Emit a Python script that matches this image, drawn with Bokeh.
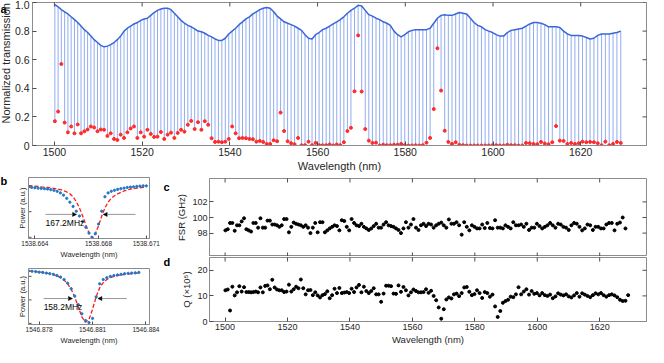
import numpy as np
from bokeh.plotting import figure
from bokeh.layouts import column, row
from bokeh.models import FixedTicker, PrintfTickFormatter, Label, Arrow, NormalHead
from bokeh.core.properties import value
from bokeh.embed import file_html
from bokeh.resources import INLINE

# ---------------- data ----------------
first_resonance_nm = 1500.1

# FSR between consecutive resonances (GHz), panel c
fsr_ghz = [
    98.35, 98.5, 99.3, 99.3, 98.3, 99.0, 99.0, 99.5, 99.9, 98.5,
    98.35, 98.2, 99.3, 99.3, 98.7, 99.9, 98.7, 98.7, 99.6,
    99.6, 99.1, 99.1, 99.0, 98.8, 99.0, 99.8, 99.8, 98.1, 98.8,
    99.35, 99.2, 99.1, 99.0, 98.8, 99.0, 98.7, 98.0, 98.7,
    99.3, 98.1, 99.4, 99.4, 98.1, 98.35, 98.6, 98.8, 99.0, 98.9,
    98.35, 99.65, 99.55, 98.8, 98.35, 99.8, 99.3, 99.0, 98.9,
    99.2, 98.8, 98.6, 98.4, 98.6, 98.9, 99.2, 98.7, 98.7, 99.1,
    99.4, 99.0, 98.9, 98.8, 98.6, 98.4, 98.0, 98.6, 99.4,
    98.7, 99.1, 99.8, 98.7, 98.4, 99.0, 99.2, 98.9, 99.2, 99.1,
    98.7, 99.0, 99.2, 99.35, 99.0, 98.7, 99.75, 99.2, 99.2,
    99.4, 99.0, 97.8, 99.4, 98.8, 98.35, 99.0, 98.8, 98.6, 98.6,
    99.1, 98.65, 99.3, 98.65, 98.6, 99.65, 98.7, 98.7, 98.6,
    99.0, 98.8, 98.6, 99.4, 99.0, 99.0, 99.1, 98.8, 99.2, 98.4,
    98.7, 98.7, 99.2, 98.9, 98.6, 98.8, 99.0, 99.3, 99.0,
    98.7, 99.2, 99.1, 98.8, 98.7, 98.4, 99.0, 99.3, 99.2, 98.8,
    98.35, 98.6, 99.1, 99.0, 98.4, 98.8, 98.8, 98.6, 98.6,
    99.1, 99.3, 99.3, 98.35, 99.2, 99.35, 100.0, 98.6,
]

# transmission at each resonance minimum (red points), panel a
dip_min = [
    0.17, 0.237, 0.57, 0.16, 0.092, 0.133, 0.085, 0.147, 0.085, 0.099,
    0.112, 0.133, 0.126, 0.099, 0.112, 0.110, 0.067, 0.085, 0.046, 0.039,
    0.076, 0.053, 0.092, 0.119, 0.133, 0.053, 0.092, 0.062, 0.110, 0.081,
    0.060, 0.062, 0.094, 0.046, 0.076, 0.090, 0.053, 0.088, 0.110, 0.097,
    0.145, 0.172, 0.115, 0.163, 0.110, 0.170, 0.145, 0.051, 0.025, 0.027,
    0.023, 0.027, 0.046, 0.133, 0.085, 0.051, 0.053, 0.051, 0.046, 0.044,
    0.027, 0.032, 0.025, 0.011, 0.011, 0.037, 0.030, 0.230, 0.101, 0.030,
    0.016, 0.009, 0.053, 0.002, 0.002, 0.027, 0.002, 0.018, 0.002, 0.002,
    0.002, 0.007, 0.0, 0.007, 0.002, 0.023, 0.101, 0.124, 0.379, 0.77,
    0.377, 0.115, 0.034, 0.018, 0.020, 0.0, 0.005, 0.002, 0.002, 0.005,
    0.005, 0.011, 0.002, 0.0, 0.0, 0.002, 0.0, 0.002, 0.020, 0.053,
    0.255, 0.68, 0.384, 0.103, 0.025, 0.011, 0.023, 0.005, 0.002, 0.0,
    0.0, 0.0, 0.0, 0.0, 0.0, 0.0, 0.002, 0.002, 0.0, 0.0,
    0.005, 0.002, 0.002, 0.0, 0.0, 0.018, 0.016, 0.011, 0.009, 0.025,
    0.014, 0.009, 0.023, 0.136, 0.034, 0.032, 0.011, 0.018, 0.011, 0.016,
    0.027, 0.023, 0.025, 0.023, 0.016, 0.002, 0.027, 0.002, 0.011, 0.025,
    0.018,
]

# off-resonance transmission next to each resonance (blue envelope), panel a
envelope = [
    0.985, 0.97, 0.95, 0.935, 0.92, 0.90, 0.88, 0.86, 0.835, 0.81,
    0.79, 0.765, 0.74, 0.72, 0.70, 0.69, 0.695, 0.705, 0.72, 0.74,
    0.765, 0.80, 0.82, 0.835, 0.85, 0.86, 0.875, 0.885, 0.89, 0.91,
    0.93, 0.945, 0.955, 0.96, 0.96, 0.95, 0.925, 0.90, 0.875, 0.855,
    0.84, 0.83, 0.815, 0.80, 0.795, 0.785, 0.77, 0.76, 0.745, 0.735,
    0.735, 0.75, 0.78, 0.80, 0.82, 0.845, 0.865, 0.885, 0.90, 0.92,
    0.935, 0.95, 0.96, 0.965, 0.96, 0.935, 0.905, 0.885, 0.865, 0.855,
    0.845, 0.835, 0.82, 0.805, 0.775, 0.75, 0.745, 0.775, 0.79, 0.81,
    0.82, 0.835, 0.85, 0.865, 0.88, 0.90, 0.925, 0.945, 0.96, 0.98,
    0.975, 0.945, 0.915, 0.905, 0.89, 0.88, 0.865, 0.855, 0.84, 0.80,
    0.775, 0.76, 0.775, 0.795, 0.805, 0.81, 0.81, 0.81, 0.81, 0.82,
    0.855, 0.89, 0.91, 0.915, 0.91, 0.91, 0.92, 0.93, 0.925, 0.92,
    0.89, 0.86, 0.84, 0.83, 0.81, 0.80, 0.79, 0.775, 0.765, 0.765,
    0.79, 0.805, 0.81, 0.815, 0.82, 0.835, 0.85, 0.86, 0.86, 0.855,
    0.845, 0.83, 0.83, 0.83, 0.825, 0.80, 0.78, 0.77, 0.77, 0.77,
    0.765, 0.755, 0.745, 0.75, 0.77, 0.78, 0.78, 0.78, 0.785, 0.79,
    0.80,
]

# loaded Q (x 10^5) of each resonance, panel d
q_1e5 = [
    12.2, 12.5, 4.3, 13.6, 10.2, 11.4, 13.8, 11.7, 13.4, 11.5, 11.5,
    11.4, 11.5, 11.7, 11.4, 13.3, 11.4, 13.9, 14.1, 12.6, 16.3,
    13.3, 12.5, 12.2, 12.2, 11.5, 11.7, 14.4, 11.7, 12.6, 13.6,
    13.0, 16.4, 13.0, 10.6, 12.2, 12.3, 10.3, 11.4, 10.2, 9.4,
    10.3, 10.7, 11.8, 9.1, 10.3, 12.8, 11.1, 13.1, 11.1, 11.3,
    11.5, 11.1, 12.8, 11.5, 13.3, 14.3, 11.4, 13.6, 11.9, 11.1,
    11.9, 13.0, 10.6, 10.6, 7.7, 10.9, 14.0, 14.0, 13.8, 10.9,
    10.8, 14.1, 11.6, 13.5, 12.2, 10.2, 11.4, 12.5, 11.9, 11.4,
    11.4, 11.5, 12.6, 11.2, 12.0, 10.0, 8.3, 5.5, 1.1,
    4.8, 8.6, 9.4, 9.0, 10.6, 10.9, 9.9, 11.1, 13.3, 13.5,
    11.6, 10.3, 10.7, 12.2, 11.1, 9.2, 11.5, 11.1, 9.7, 10.5,
    5.9, 1.8, 4.1,
    7.3, 8.0, 8.5, 9.7, 9.5, 10.6, 13.4, 10.6, 11.7, 12.6,
    10.5, 11.9, 10.8, 11.1, 10.2, 11.1, 10.3, 10.0, 10.5, 9.1,
    9.8, 11.0, 10.5, 10.2, 10.6, 9.8, 9.4, 10.2, 11.1, 9.7,
    11.0, 10.5, 10.0, 9.5, 10.3, 11.0, 10.6, 11.1, 10.3, 9.7,
    10.3, 10.6, 10.2, 9.5, 8.5, 8.0, 8.1, 10.3,
]

# panel b: single resonances, sampled every 0.2 pm
b1_start, b1_step = 1538.6636, 0.0002
b1_xrange = (1538.6636, 1538.6712)
b1_meas = [0.842, 0.837, 0.832, 0.826, 0.821, 0.816, 0.811, 0.80, 0.79, 0.774,
           0.747, 0.71, 0.658, 0.595, 0.526, 0.447, 0.368, 0.279, 0.184, 0.089,
           0.016, 0.079, 0.237, 0.447, 0.684, 0.747, 0.774, 0.79, 0.805, 0.816,
           0.826, 0.837, 0.842, 0.847, 0.853, 0.858, 0.863, 0.863]
b1_fit = [0.868, 0.863, 0.858, 0.853, 0.847, 0.842, 0.837, 0.829, 0.821, 0.811,
          0.80, 0.784, 0.763, 0.732, 0.684, 0.605, 0.50, 0.368, 0.226, 0.089,
          0.01, 0.079, 0.21, 0.368, 0.50, 0.595, 0.658, 0.70, 0.732, 0.758,
          0.779, 0.795, 0.811, 0.818, 0.826, 0.832, 0.837, 0.842]
b2_start, b2_step = 1546.8774, 0.0002
b2_xrange = (1546.8774, 1546.8842)
b2_meas = [0.956, 0.951, 0.945, 0.934, 0.929, 0.918, 0.907, 0.896, 0.874, 0.847,
           0.803, 0.738, 0.639, 0.508, 0.355, 0.191, 0.071, 0.033, 0.109, 0.492,
           0.727, 0.803, 0.836, 0.858, 0.874, 0.885, 0.896, 0.907, 0.913, 0.918,
           0.923, 0.929]
b2_fit = [0.956, 0.951, 0.945, 0.94, 0.929, 0.918, 0.907, 0.891, 0.869, 0.836,
          0.792, 0.727, 0.628, 0.492, 0.311, 0.137, 0.038, 0.093, 0.273, 0.492,
          0.656, 0.749, 0.803, 0.836, 0.858, 0.874, 0.885, 0.896, 0.902, 0.907,
          0.913, 0.918]
b1_linewidth = "167.2MHz"
b1_arrow_left = (1538.66467, 1538.66662)
b1_arrow_right = (1538.67032, 1538.66829)
b1_arrow_y = 0.395
b2_linewidth = "158.2MHz"
b2_arrow_left = (1546.87825, 1546.87987)
b2_arrow_right = (1546.88292, 1546.88130)
b2_arrow_y = 0.464

a_xticks = [1500, 1520, 1540, 1560, 1580, 1600, 1620]
a_yticks = [0, 0.2, 0.4, 0.6, 0.8, 1.0]
b1_xticks = [1538.664, 1538.668, 1538.671]
b2_xticks = [1546.878, 1546.881, 1546.884]
b_yticks = [0.02, 0.44, 0.86]
c_yticks = [98, 100, 102]
d_yticks = [0, 10, 20]

# ---------------- derived ----------------
C_NM_GHZ = 299792458.0
freqs = C_NM_GHZ / first_resonance_nm - np.concatenate([[0.0], np.cumsum(fsr_ghz)])
lam = C_NM_GHZ / freqs
b1_x = b1_start + b1_step * np.arange(len(b1_meas))
b2_x = b2_start + b2_step * np.arange(len(b2_meas))

FONT = "Liberation Sans"
FRAME = "#8c8c8c"
TICK = "#4d4d4d"
TXT = "#262626"


def fig(w, h, xr, yr, ml, mr, mt, mb):
    p = figure(width=w, height=h, x_range=xr, y_range=yr, output_backend="svg",
               toolbar_location=None, min_border_left=ml, min_border_right=mr,
               min_border_top=mt, min_border_bottom=mb)
    p.grid.visible = False
    p.outline_line_color = FRAME
    p.background_fill_color = "white"
    p.border_fill_color = "white"
    return p


def style(ax, ticks, tsize, lsize, standoff=2, lstandoff=2, tick_len=4):
    ax.ticker = FixedTicker(ticks=ticks)
    ax.major_tick_in = tick_len
    ax.major_tick_out = 0
    ax.minor_tick_in = 0
    ax.minor_tick_out = 0
    ax.axis_line_color = FRAME
    ax.major_tick_line_color = TICK
    ax.major_label_text_font = FONT
    ax.major_label_text_font_size = tsize
    ax.major_label_text_color = TXT
    ax.axis_label_text_font = FONT
    ax.axis_label_text_font_style = "normal"
    ax.axis_label_text_font_size = lsize
    ax.axis_label_text_color = TXT
    ax.major_label_standoff = standoff
    ax.axis_label_standoff = lstandoff


def edge_ticks(p, xticks=None, y_edge=None, yticks=None, x_edge=None, length=8):
    """inner tick marks on a frame edge without labels (outer half is clipped by the frame)"""
    if xticks is not None:
        p.scatter(xticks, [y_edge] * len(xticks), marker="dash", angle=np.pi / 2,
                  size=length, line_color=TICK, line_width=1)
    if yticks is not None:
        p.scatter([x_edge] * len(yticks), yticks, marker="dash", angle=0,
                  size=length, line_color=TICK, line_width=1)


def strip(w, h):
    """a narrow, axis-less strip whose coordinates are its own pixels (y from the top)"""
    p = figure(width=w, height=h, x_range=(0, w), y_range=(h, 0), output_backend="svg",
               toolbar_location=None, min_border=0)
    p.axis.visible = False
    p.grid.visible = False
    p.outline_line_color = None
    return p


def letters(p, texts, lefts, tops):
    p.text(x=lefts, y=tops, text=texts, text_font=value(FONT), text_font_style="bold",
           text_font_size="11px", text_color="black", text_baseline="top", text_align="left")


# ---------------- panel a ----------------
A_H, A_STRIP = 174, 11
A_W, A_ML, A_MR, A_MT = 648 - A_STRIP, 17, 2, 2
pa = fig(A_W, A_H, (1495, 1635), (0, 1), A_ML, A_MR, A_MT, 0)
pa.segment(x0=lam, y0=dip_min, x1=lam, y1=envelope, line_color="#5a84e8", line_width=0.9, line_alpha=0.75)
pa.line(lam, envelope, line_color="#3a66d9", line_width=1.5)
pa.scatter(lam, dip_min, size=3.0, color="#ff2a2a")
style(pa.xaxis[0], a_xticks, "10.5px", "11px", 2, 1)
style(pa.yaxis[0], a_yticks, "10.5px", "11px", 3, 0)
pa.yaxis[0].formatter = PrintfTickFormatter(format="%.1f")
pa.yaxis[0].major_label_overrides = {0: "0"}
pa.xaxis[0].axis_label = "Wavelength (nm)"
edge_ticks(pa, xticks=a_xticks, y_edge=1.0, yticks=a_yticks, x_edge=1635)

strip_a = strip(A_STRIP, A_H)
letters(strip_a, ["a"], [0], [0])
# y-axis title of panel a, centred on its frame (frame spans A_MT .. A_H-28)
strip_a.text(x=[5.5], y=[(A_MT + A_H - 28) / 2], text=["Normalized transmission"],
             angle=np.pi / 2, text_font=value(FONT), text_font_size="11px", text_color=TXT,
             text_align="center", text_baseline="middle")

# ---------------- panel b ----------------
B_W, B_ML, B_MR = 153, 18, 14


def b_panel(h, mt, xr, xs, xticks, meas, fit, arr_l, arr_r, arr_y, txt):
    p = fig(B_W, h, xr, (0, 1), B_ML, B_MR, mt, 0)
    p.line(xs, fit, line_color="#ff1a1a", line_width=1.3, line_dash="4 2")
    p.scatter(xs, meas, size=2.3, color="#1f77c8")
    style(p.xaxis[0], xticks, "6.5px", "7.5px", 2, 1, 3)
    p.xaxis[0].formatter = PrintfTickFormatter(format="%.3f")
    style(p.yaxis[0], [], "6.5px", "7.5px", 0, 2, 3)
    p.xaxis[0].axis_label = "Wavelength (nm)"
    p.yaxis[0].axis_label = "Power (a.u.)"
    edge_ticks(p, yticks=b_yticks, x_edge=xr[0], length=6)
    for xa, xb in (arr_l, arr_r):
        p.add_layout(Arrow(end=NormalHead(size=4, fill_color="black", line_color="black", line_width=0.5),
                           x_start=xa, y_start=arr_y, x_end=xb, y_end=arr_y,
                           line_color="#8c8c8c", line_width=0.9))
    p.add_layout(Label(x=arr_l[0], y=arr_y - 0.06, text=txt, text_font=FONT,
                       text_font_size="8.5px", text_color="black", text_baseline="top"))
    return p


ROW_H = 347 - A_H
pb1 = b_panel(87, 3, b1_xrange, b1_x, b1_xticks, b1_meas, b1_fit,
              b1_arrow_left, b1_arrow_right, b1_arrow_y, b1_linewidth)
pb2 = b_panel(ROW_H - 87, 7, b2_xrange, b2_x, b2_xticks, b2_meas, b2_fit,
              b2_arrow_left, b2_arrow_right, b2_arrow_y, b2_linewidth)
strip_b = strip(10, ROW_H)
letters(strip_b, ["b"], [0], [0])
strip_cd = strip(10, ROW_H)
letters(strip_cd, ["c", "d"], [0, 0], [6, 81])

# ---------------- panel c ----------------
CD_W, CD_ML, CD_MR = 648 - 10 - B_W - 10, 32, 2
pc = fig(CD_W, 82, (1495, 1635), (95, 105), CD_ML, CD_MR, 4, 0)
pc.scatter(lam[:-1], fsr_ghz, size=3, color="black")
pc.xaxis.visible = False
style(pc.yaxis[0], c_yticks, "9px", "9.5px", 2, 2)
pc.yaxis[0].axis_label = "FSR (GHz)"
edge_ticks(pc, xticks=a_xticks, y_edge=105, yticks=c_yticks, x_edge=1635)
edge_ticks(pc, xticks=a_xticks, y_edge=95)

# ---------------- panel d ----------------
pd = fig(CD_W, ROW_H - 82, (1495, 1635), (0, 25), CD_ML, CD_MR, 1, 0)
pd.scatter(lam, q_1e5, size=3, color="black")
style(pd.xaxis[0], a_xticks, "9px", "9.5px", 2, 1)
style(pd.yaxis[0], d_yticks, "9px", "9.5px", 2, 2)
pd.xaxis[0].axis_label = "Wavelength (nm)"
pd.yaxis[0].axis_label = "Q (\u00d710\u2075)"
edge_ticks(pd, xticks=a_xticks, y_edge=25, yticks=d_yticks, x_edge=1635)

layout = column(row(strip_a, pa),
                row(strip_b, column(pb1, pb2), strip_cd, column(pc, pd)))
open("out.html", "w").write(file_html(layout, INLINE))
